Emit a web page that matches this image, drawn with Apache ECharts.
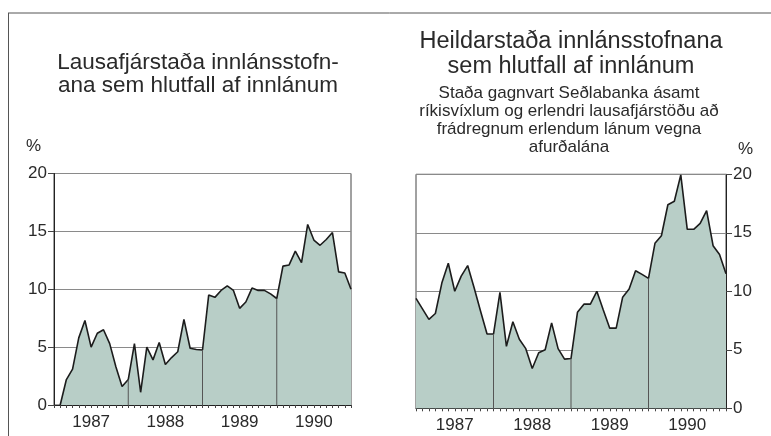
<!DOCTYPE html>
<html>
<head>
<meta charset="utf-8">
<script src="https://cdn.jsdelivr.net/npm/echarts@6/dist/echarts.min.js"></script>
<style>
  html, body { margin: 0; padding: 0; background: #fff; }
  #chart { width: 771px; height: 436px; }
</style>
</head>
<body>
<div id="chart"></div>
<script>
// Monthly observations, Dec 1986 (index 0) through Dec 1990 (index 48)
const years = [1987, 1988, 1989, 1990];
const months = ['1986-12'];
years.forEach(y => { for (let m = 1; m <= 12; m++) months.push(y + '-' + String(m).padStart(2, '0')); });

// Lausafjárstaða innlánsstofnana, % af innlánum
const liquidity = [null, 0, 2.2, 3.1, 5.8, 7.3, 5.0, 6.2, 6.5, 5.3, 3.3, 1.6,
  2.2, 5.3, 1.1, 5.0, 3.9, 5.4, 3.5, 4.1, 4.6, 7.4, 4.9, 4.8,
  4.75, 9.5, 9.3, 9.9, 10.3, 9.9, 8.35, 8.9, 10.1, 9.9, 9.9, 9.6,
  9.2, 12.0, 12.1, 13.3, 12.3, 15.6, 14.25, 13.8, 14.3, 14.9, 11.5, 11.4,
  10.0];

// Heildarstaða innlánsstofnana, % af innlánum
const totalPosition = [9.4, 8.5, 7.6, 8.1, 10.7, 12.4, 10.0, 11.3, 12.2, 10.3, 8.3, 6.35,
  6.35, 9.9, 5.3, 7.4, 5.9, 5.1, 3.4, 4.75, 5.0, 7.3, 5.1, 4.2,
  4.25, 8.2, 8.9, 8.9, 10.0, 8.4, 6.85, 6.85, 9.5, 10.2, 11.75, 11.45,
  11.1, 14.1, 14.75, 17.4, 17.7, 19.95, 15.3, 15.3, 15.8, 16.9, 13.9, 13.15,
  11.5];

// Year-end positions marked with a thin divider inside the shaded area
const yearEnds = [12, 24, 36];
const yTicks = [0, 5, 10, 15, 20];

const FONT = '"Liberation Sans", Arial, sans-serif';
const TEXT = '#2a2a2a';
const FILL = '#b8cec7';

function dividers(values) {
  return values.map((v, i) => (yearEnds.includes(i) ? v : '-'));
}

function xAxis(gridIndex) {
  return {
    type: 'category', gridIndex, data: months, boundaryGap: false,
    axisLine: { lineStyle: { color: '#222', width: 1.2 } },
    axisTick: { show: true, interval: 0, length: 3, lineStyle: { color: '#444' } },
    axisLabel: {
      interval: i => i % 12 === 6,
      formatter: v => v.slice(0, 4),
      color: TEXT, fontSize: 17, fontFamily: FONT, margin: 9
    },
    splitLine: { show: false }
  };
}

function yAxis(gridIndex, position) {
  return {
    type: 'value', gridIndex, position, min: yTicks[0], max: yTicks[yTicks.length - 1], interval: 5,
    axisLine: { show: true, lineStyle: { color: '#222', width: 1 } },
    axisTick: { show: true, length: 6, lineStyle: { color: '#444' } },
    axisLabel: { color: TEXT, fontSize: 17, fontFamily: FONT, margin: 7 },
    splitLine: { show: true, lineStyle: { color: '#8a8a8a', width: 1 } }
  };
}

function area(name, values, idx) {
  return {
    name, type: 'line', xAxisIndex: idx, yAxisIndex: idx, data: values,
    symbol: 'none', connectNulls: false,
    lineStyle: { color: '#1c1c1c', width: 1.6 },
    areaStyle: { color: FILL, opacity: 1 },
    z: 3
  };
}

function divider(values, idx) {
  return {
    type: 'bar', xAxisIndex: idx, yAxisIndex: idx, data: dividers(values),
    barWidth: 1, itemStyle: { color: '#555' }, z: 4, silent: true
  };
}

const chart = echarts.init(document.getElementById('chart'), null, { renderer: 'canvas' });
chart.setOption({
  animation: false,
  backgroundColor: '#fff',
  grid: [
    { left: 54, top: 173.5, width: 297, height: 231.5, show: true, borderColor: '#444', borderWidth: 1 },
    { left: 416, top: 174.3, width: 310, height: 234, show: true, borderColor: '#444', borderWidth: 1 }
  ],
  xAxis: [xAxis(0), xAxis(1)],
  yAxis: [yAxis(0, 'left'), yAxis(1, 'right')],
  title: [
    {
      text: 'Lausafjárstaða innlánsstofn-\nana sem hlutfall af innlánum',
      left: 193, top: 46, textAlign: 'center',
      textStyle: { fontFamily: FONT, fontWeight: 'normal', fontSize: 22.5, lineHeight: 23, color: TEXT }
    },
    {
      text: 'Heildarstaða innlánsstofnana\nsem hlutfall af innlánum',
      left: 566, top: 24, textAlign: 'center',
      textStyle: { fontFamily: FONT, fontWeight: 'normal', fontSize: 23.5, lineHeight: 25, color: TEXT }
    },
    {
      text: 'Staða gagnvart Seðlabanka ásamt\nríkisvíxlum og erlendri lausafjárstöðu að\nfrádregnum erlendum lánum vegna\nafurðalána',
      left: 564, top: 79, textAlign: 'center',
      textStyle: { fontFamily: FONT, fontWeight: 'normal', fontSize: 17, lineHeight: 18.2, color: TEXT }
    }
  ],
  graphic: [
    { type: 'line', shape: { x1: 8, y1: 13, x2: 771, y2: 13 }, style: { stroke: '#555', lineWidth: 1 } },
    { type: 'line', shape: { x1: 8.5, y1: 13, x2: 8.5, y2: 436 }, style: { stroke: '#555', lineWidth: 1 } },
    { type: 'text', left: 26, top: 138, style: { text: '%', fontSize: 17, fontFamily: FONT, fill: TEXT } },
    { type: 'text', left: 738, top: 141, style: { text: '%', fontSize: 17, fontFamily: FONT, fill: TEXT } }
  ],
  series: [
    divider(liquidity, 0),
    area('Lausafjárstaða', liquidity, 0),
    divider(totalPosition, 1),
    area('Heildarstaða', totalPosition, 1)
  ]
});
</script>
</body>
</html>
